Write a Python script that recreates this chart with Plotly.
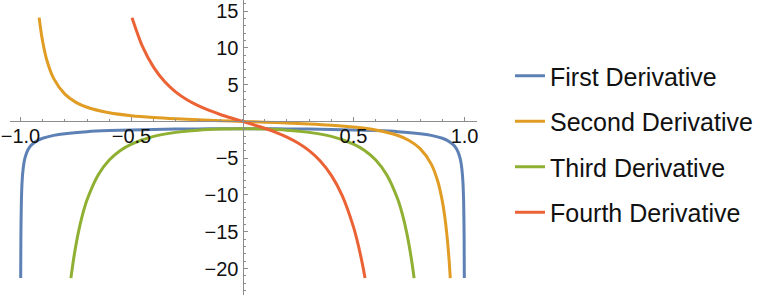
import plotly.graph_objects as go

# ---- data ----
x1 = [-0.9989, -0.998, -0.996, -0.993, -0.99, -0.985, -0.98, -0.97, -0.96, -0.95, -0.92, -0.9, -0.85, -0.8, -0.7, -0.6, -0.5, -0.4, -0.3, -0.2, -0.1, 0.0,
      0.1, 0.2, 0.3, 0.4, 0.5, 0.6, 0.7, 0.8, 0.85, 0.9, 0.92, 0.95, 0.96, 0.97, 0.98, 0.985, 0.99, 0.993, 0.996, 0.998, 0.9989]
y1 = [-21.3, -15.8, -11.19, -8.47, -7.09, -5.795, -5.03, -4.11, -3.571, -3.20, -2.55, -2.29, -1.90, -1.667, -1.400, -1.25, -1.155, -1.091, -1.048, -1.021, -1.005, -1.0,
      -1.005, -1.021, -1.048, -1.091, -1.155, -1.25, -1.400, -1.667, -1.90, -2.29, -2.55, -3.20, -3.571, -4.11, -5.03, -5.795, -7.09, -8.47, -11.19, -15.8, -21.3]

x2 = [-0.9157, -0.91, -0.9, -0.88, -0.85, -0.8, -0.75, -0.7, -0.6, -0.5, -0.4, -0.3, -0.2, -0.1, 0.0,
      0.1, 0.2, 0.3, 0.4, 0.5, 0.6, 0.7, 0.75, 0.8, 0.85, 0.88, 0.9, 0.91, 0.92, 0.93, 0.9357]
y2 = [14.1, 12.77, 10.87, 8.21, 5.81, 3.70, 2.59, 1.92, 1.17, 0.77, 0.52, 0.346, 0.213, 0.1015, 0.0,
      -0.1015, -0.213, -0.346, -0.52, -0.77, -1.17, -1.92, -2.59, -3.70, -5.81, -8.21, -10.87, -12.77, -15.28, -18.73, -21.3]

x3 = [-0.7728, -0.76, -0.74, -0.72, -0.7, -0.65, -0.6, -0.55, -0.5, -0.4, -0.3, -0.2, -0.1, 0.0,
      0.1, 0.2, 0.3, 0.4, 0.5, 0.55, 0.6, 0.65, 0.7, 0.72, 0.74, 0.76, 0.7728]
y3 = [-21.3, -18.59, -15.22, -12.65, -10.66, -7.28, -5.249, -3.95, -3.079, -2.041, -1.494, -1.196, -1.046, -1.0,
      -1.046, -1.196, -1.494, -2.041, -3.079, -3.95, -5.249, -7.28, -10.66, -12.65, -15.22, -18.59, -21.3]

x4 = [-0.4975, -0.45, -0.4, -0.35, -0.3, -0.25, -0.2, -0.15, -0.1, -0.05, 0.0,
      0.05, 0.1, 0.15, 0.2, 0.25, 0.3, 0.35, 0.4, 0.45, 0.5, 0.52, 0.54, 0.5518]
y4 = [14.1, 10.15, 7.334, 5.383, 3.981, 2.938, 2.132, 1.484, 0.938, 0.455, 0.0,
      -0.455, -0.938, -1.484, -2.132, -2.938, -3.981, -5.383, -7.334, -10.15, -14.37, -16.65, -19.40, -21.3]

series_names = ["First Derivative", "Second Derivative", "Third Derivative", "Fourth Derivative"]
series_x = [x1, x2, x3, x4]
series_y = [y1, y2, y3, y4]
colors = ["#5E81B5", "#E19C24", "#8FB032", "#EB6235"]

x_tickvals = [-1.0, -0.5, 0.5, 1.0]
x_ticktext = ["\u22121.0", "\u22120.5", "0.5", "1.0"]
y_tickvals = [-20, -15, -10, -5, 5, 10, 15]
y_ticktext = ["\u221220", "\u221215", "\u221210", "\u22125", "5", "10", "15"]

# ---- figure ----
xr = [-1.047, 1.056]
yr = [-23.6, 16.5]

fig = go.Figure()
for name, xs, ys, c in zip(series_names, series_x, series_y, colors):
    fig.add_trace(go.Scatter(x=xs, y=ys, mode="lines", name=name, legendgroup=name,
                             line=dict(color=c, width=3, shape="spline", smoothing=0.8)))

axis_common = dict(showgrid=False, zeroline=False, showline=True, linecolor="#8c8c8c", linewidth=1,
                   ticks="inside", ticklen=4, tickcolor="#8c8c8c", tickwidth=1,
                   tickfont=dict(family="Liberation Sans, Arial, sans-serif", size=20, color="#111111"))

fig.update_layout(
    width=777, height=295,
    margin=dict(l=10, r=300, t=0, b=0),
    paper_bgcolor="white", plot_bgcolor="white",
    xaxis=dict(range=xr, anchor="free", position=(0 - yr[0]) / (yr[1] - yr[0]),
               tickvals=x_tickvals, ticktext=x_ticktext, ticklabelstandoff=-3,
               minor=dict(dtick=0.1, tick0=0, ticks="inside", ticklen=2.5, tickcolor="#8c8c8c"),
               **axis_common),
    yaxis=dict(range=yr, anchor="free", position=(0 - xr[0]) / (xr[1] - xr[0]),
               tickvals=y_tickvals, ticktext=y_ticktext,
               minor=dict(dtick=1, tick0=0, ticks="inside", ticklen=2.5, tickcolor="#8c8c8c"),
               **axis_common),
    legend=dict(x=(510 - 10) / 467, xanchor="left", y=1 - 53 / 295, yanchor="top",
                font=dict(family="Liberation Sans, Arial, sans-serif", size=25, color="#111111"),
                tracegroupgap=10, bgcolor="rgba(0,0,0,0)"),
    showlegend=True,
)

fig.write_html("out.html")
